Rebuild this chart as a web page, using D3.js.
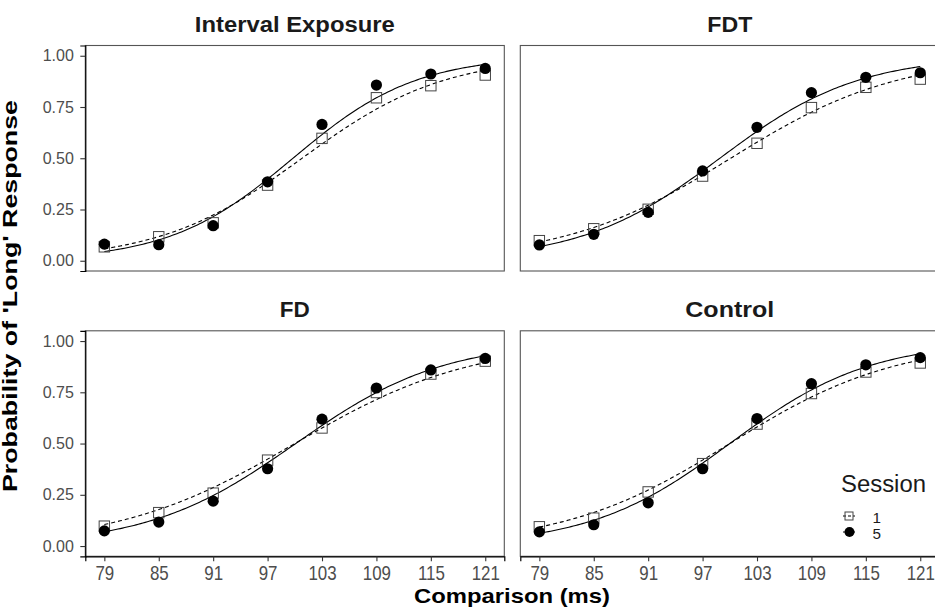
<!DOCTYPE html>
<html><head><meta charset="utf-8">
<script src="https://cdn.jsdelivr.net/npm/d3@7"></script>
<style>
body{margin:0;background:#fff;}
text{font-family:"Liberation Sans",Arial,sans-serif;}
</style></head>
<body><svg id="c" width="935" height="610"></svg>
<script>
// ---- data ----
const comparisons = [79, 85, 91, 97, 103, 109, 115, 121];
const panels = ["Interval Exposure", "FDT", "FD", "Control"];
const sessions = ["1", "5"];
const yTicks = [0, 0.25, 0.5, 0.75, 1];
// observed proportions, session 1 (open squares)
const s1IntervalExposure = [0.068, 0.117, 0.185, 0.369, 0.597, 0.795, 0.854, 0.906];
const s1FDT              = [0.098, 0.156, 0.251, 0.413, 0.573, 0.747, 0.846, 0.886];
const s1FD               = [0.097, 0.163, 0.258, 0.419, 0.576, 0.749, 0.839, 0.902];
const s1Control          = [0.094, 0.136, 0.264, 0.402, 0.595, 0.744, 0.849, 0.893];
// observed proportions, session 5 (filled circles)
const s5IntervalExposure = [0.081, 0.078, 0.171, 0.385, 0.665, 0.857, 0.911, 0.938];
const s5FDT              = [0.077, 0.129, 0.236, 0.438, 0.651, 0.820, 0.895, 0.917];
const s5FD               = [0.074, 0.117, 0.219, 0.377, 0.619, 0.771, 0.859, 0.915];
const s5Control          = [0.069, 0.104, 0.211, 0.377, 0.622, 0.792, 0.884, 0.919];
// fitted logistic curves (PSE and spread), per panel
const fitMidS1   = [100.8, 100.1, 100.0, 100.0];
const fitScaleS1 = [7.85, 9.2, 9.8, 9.2];
const fitMidS5   = [99.8, 98.9, 100.1, 100.0];
const fitScaleS5 = [6.8, 7.65, 8.15, 7.75];

const obsS1 = [s1IntervalExposure, s1FDT, s1FD, s1Control];
const obsS5 = [s5IntervalExposure, s5FDT, s5FD, s5Control];

// ---- layout ----
const svg = d3.select("#c");
const pw = 419, ph = 225.5;
const lefts = [85.3, 520.3], tops = [45.5, 330.8];
const titleWidths = [200, 45, 30, 89];
const fmt = d3.format(".2f");

function logistic(x, m, s){ return 1/(1+Math.exp(-(x-m)/s)); }

panels.forEach((name, i) => {
  const col = i % 2, row = Math.floor(i / 2);
  const g = svg.append("g").attr("transform", `translate(${lefts[col]},${tops[row]})`);
  const x = d3.scaleLinear().domain([76.9, 123.1]).range([0, pw]);
  const y = d3.scaleLinear().domain([-0.05, 1.05]).range([ph, 0]);

  g.append("rect").attr("width", pw).attr("height", ph)
    .attr("fill", "#fff").attr("stroke", "#555").attr("stroke-width", 1.1);

  const xs = d3.range(79, 121.01, 0.25);
  const line = d3.line().x(d => x(d[0])).y(d => y(d[1])).curve(d3.curveLinear);
  g.append("path").datum(xs.map(v => [v, logistic(v, fitMidS1[i], fitScaleS1[i])]))
    .attr("d", line).attr("fill", "none").attr("stroke", "#000")
    .attr("stroke-width", 1.1).attr("stroke-dasharray", "4,3");
  g.append("path").datum(xs.map(v => [v, logistic(v, fitMidS5[i], fitScaleS5[i])]))
    .attr("d", line).attr("fill", "none").attr("stroke", "#000").attr("stroke-width", 1.1);

  g.selectAll("rect.sq").data(comparisons.map((c, k) => [c, obsS1[i][k]])).join("rect")
    .attr("class", "sq")
    .attr("x", d => x(d[0]) - 5.2).attr("y", d => y(d[1]) - 5.2)
    .attr("width", 10.4).attr("height", 10.4)
    .attr("fill", "none").attr("stroke", "#444").attr("stroke-width", 1);
  g.selectAll("circle.ci").data(comparisons.map((c, k) => [c, obsS5[i][k]])).join("circle")
    .attr("class", "ci")
    .attr("cx", d => x(d[0])).attr("cy", d => y(d[1])).attr("r", 5.6).attr("fill", "#000");

  // strip title
  svg.append("text").attr("x", lefts[col] + pw/2)
    .attr("y", tops[row] - 13.5).attr("text-anchor", "middle")
    .attr("font-size", 21.5).attr("font-weight", "bold").attr("fill", "#1a1a1a")
    .attr("textLength", titleWidths[i]).attr("lengthAdjust", "spacingAndGlyphs").text(name);

  if (col === 0) {
    const ya = g.append("g").call(d3.axisLeft(y).tickValues(yTicks).tickFormat(fmt).tickSize(5).tickPadding(6.5));
    ya.select(".domain").attr("stroke", "#000").attr("stroke-width", 1.2);
    ya.selectAll(".tick line").attr("stroke", "#333").attr("stroke-width", 1.1);
    ya.selectAll(".tick text").attr("font-size", 16).attr("fill", "#4d4d4d")
      .attr("font-family", "'Liberation Sans',Arial,sans-serif");
  }
  if (row === 1) {
    const xa = g.append("g").attr("transform", `translate(0,${ph})`)
      .call(d3.axisBottom(x).tickValues(comparisons).tickFormat(d3.format("d")).tickSize(5).tickPadding(5));
    xa.select(".domain").attr("stroke", "#000").attr("stroke-width", 1.2);
    xa.selectAll(".tick line").attr("stroke", "#333").attr("stroke-width", 1.1);
    xa.selectAll(".tick text").attr("font-size", 20).attr("fill", "#4d4d4d")
      .attr("font-family", "'Liberation Sans',Arial,sans-serif")
      .attr("transform", "scale(0.845,1)");
  }
});

// axis titles
svg.append("text").attr("x", 512).attr("y", 603).attr("text-anchor", "middle")
  .attr("font-size", 21).attr("font-weight", "bold")
  .attr("textLength", 196).attr("lengthAdjust", "spacingAndGlyphs").text("Comparison (ms)");
svg.append("text").attr("transform", "translate(17,296) rotate(-90)").attr("text-anchor", "middle")
  .attr("font-size", 19.5).attr("font-weight", "bold")
  .attr("textLength", 392).attr("lengthAdjust", "spacingAndGlyphs").text("Probability of 'Long' Response");

// legend
const lg = svg.append("g").attr("transform", "translate(841,0)");
lg.append("text").attr("x", 0).attr("y", 492).attr("font-size", 23.5).attr("fill", "#1a1a1a")
  .attr("textLength", 85).attr("lengthAdjust", "spacingAndGlyphs").text("Session");
sessions.forEach((s, k) => {
  const cy = 516 + k * 16;
  const kg = lg.append("g");
  kg.append("line").attr("x1", 2).attr("x2", 14).attr("y1", cy).attr("y2", cy)
    .attr("stroke", "#000").attr("stroke-width", 1).attr("stroke-dasharray", k === 0 ? "3,2" : null);
  if (k === 0) kg.append("rect").attr("x", 4).attr("y", cy - 4).attr("width", 8).attr("height", 8)
    .attr("fill", "none").attr("stroke", "#444");
  else kg.append("circle").attr("cx", 8.5).attr("cy", cy).attr("r", 5).attr("fill", "#000");
  lg.append("text").attr("x", 31.5).attr("y", cy + 6.5).attr("font-size", 14.3)
    .attr("textLength", 8.5).attr("lengthAdjust", "spacingAndGlyphs")
    .attr("fill", "#1a1a1a").text(s);
});
</script></body></html>
